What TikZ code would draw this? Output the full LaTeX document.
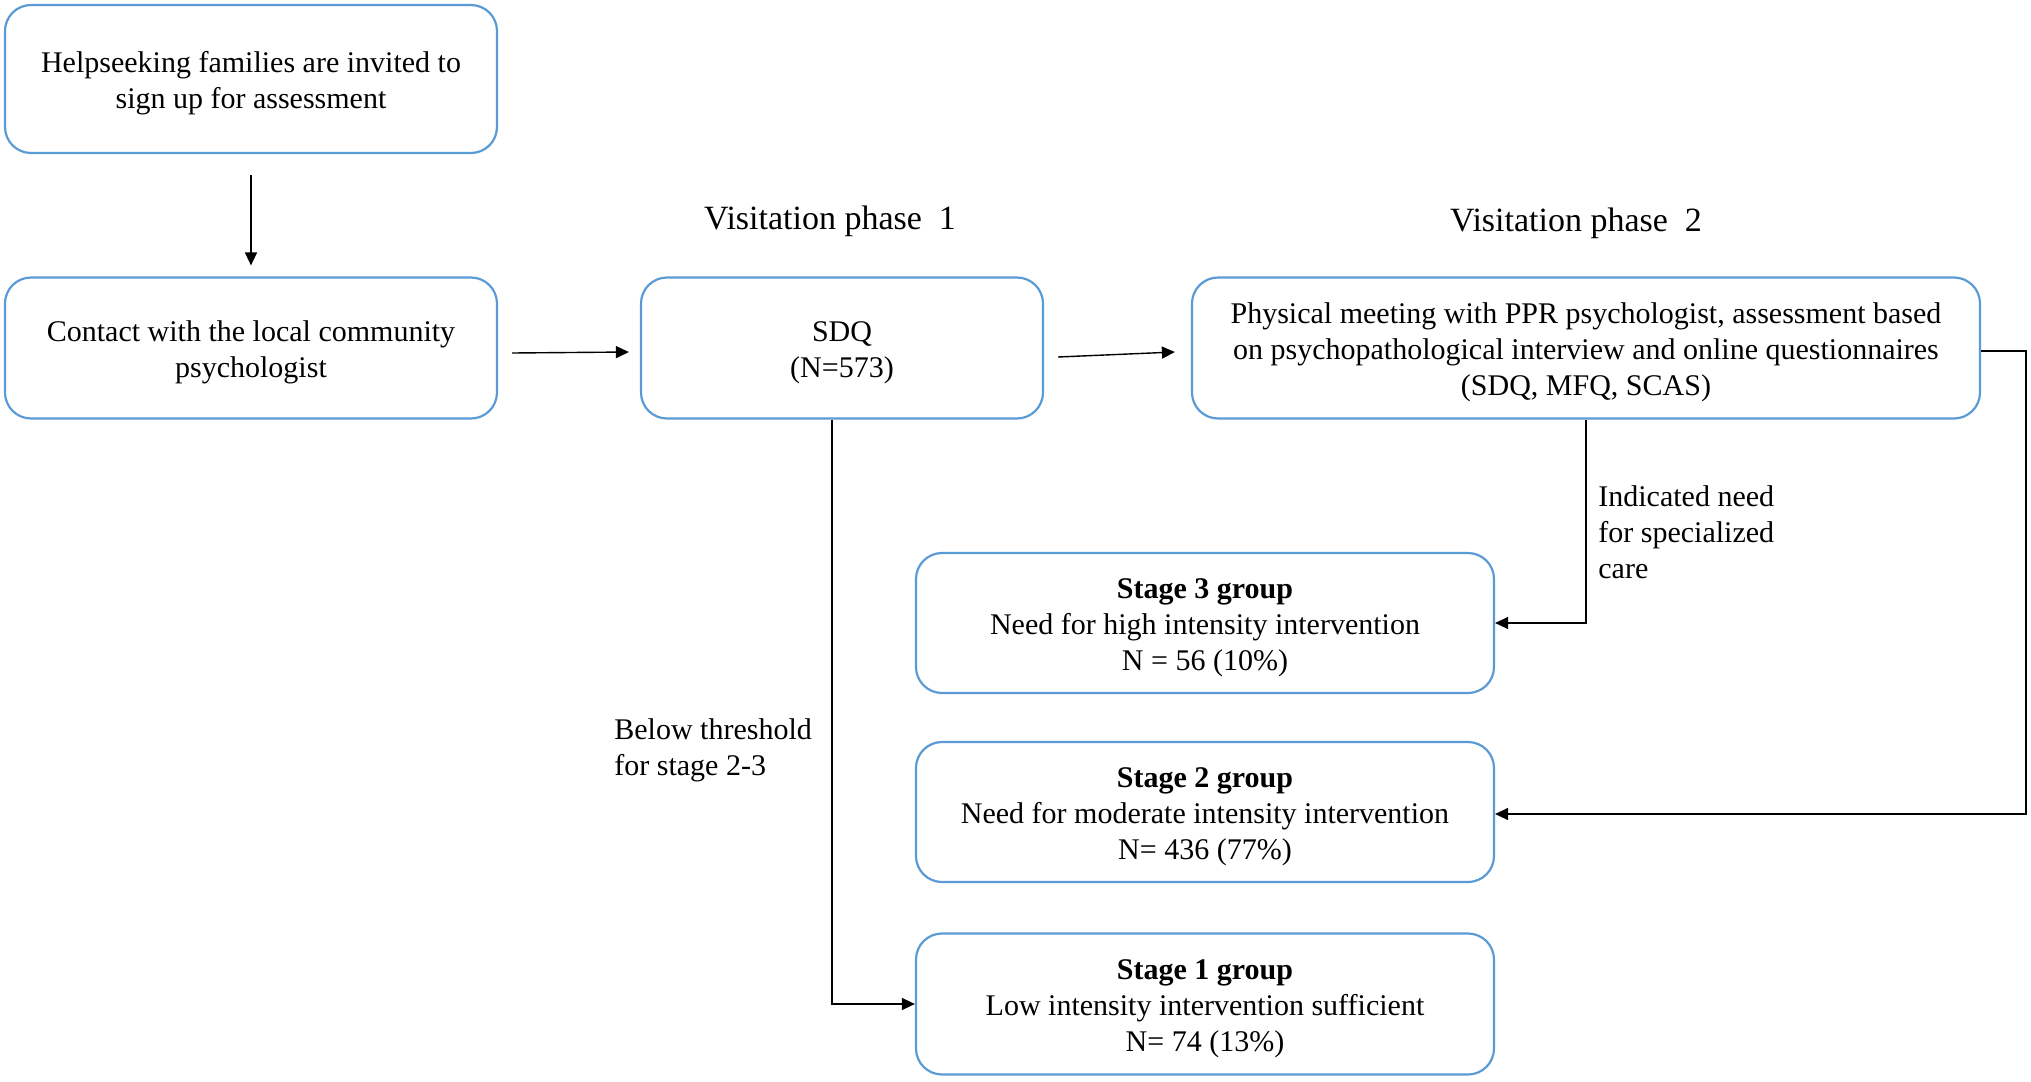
\documentclass[tikz,border=0pt]{standalone}
\usepackage{fontspec}
\setmainfont{Liberation Serif}
\usetikzlibrary{arrows.meta}
\definecolor{boxblue}{RGB}{91,155,213}
\newcommand{\topstrut}{\rule{0pt}{14.8pt}}
\begin{document}
\begin{tikzpicture}[x=0.5pt,y=-0.5pt,
  box/.style={draw=boxblue, line width=1.1pt, rounded corners=13pt, fill=white, align=center,
    font=\fontsize{15}{18}\selectfont, inner sep=2pt},
  arr/.style={draw=black, line width=0.7pt, -{Triangle[length=6.5pt,width=6pt]}},
  lbl/.style={font=\fontsize{15}{18}\selectfont, align=left, inner sep=0pt},
  phase/.style={font=\fontsize{17}{20}\selectfont, inner sep=0pt}]
\useasboundingbox (0,0) rectangle (2031,1082);

\node[box, minimum width=246pt, minimum height=74pt] (b1) at (251,79)
  {\topstrut Helpseeking families are invited to\\sign up for assessment};
\node[box, minimum width=246pt, minimum height=70.5pt] (b2) at (251,348)
  {\topstrut Contact with the local community\\psychologist};
\node[box, minimum width=201pt, minimum height=70.5pt] (sdq) at (842,348)
  {\topstrut SDQ\\(N=573)};
\node[box, minimum width=394pt, minimum height=70.5pt] (phys) at (1586,348)
  {\topstrut Physical meeting with PPR psychologist, assessment based\\on psychopathological interview and online questionnaires\\(SDQ, MFQ, SCAS)};
\node[box, minimum width=289pt, minimum height=70pt] (s3) at (1205,623)
  {\topstrut\textbf{Stage 3 group}\\Need for high intensity intervention\\N = 56 (10\%)};
\node[box, minimum width=289pt, minimum height=70pt] (s2) at (1205,812)
  {\topstrut\textbf{Stage 2 group}\\Need for moderate intensity intervention\\N= 436 (77\%)};
\node[box, minimum width=289pt, minimum height=70.5pt] (s1) at (1205,1004)
  {\topstrut\textbf{Stage 1 group}\\Low intensity intervention sufficient\\N= 74 (13\%)};

\node[phase] (p1) at (830,221) {Visitation phase\ \ 1};
\node[phase] (p2) at (1576,223) {Visitation phase\ \ 2};

\node[lbl, anchor=north west] (l1) at (1598,485) {Indicated need\\for specialized\\care};
\node[lbl, anchor=north west] (l2) at (614,718) {Below threshold\\for stage 2-3};

\draw[arr, shorten <=10.5pt, shorten >=5.5pt] (b1) -- (b2);
\draw[arr] ([xshift=7pt,yshift=-2.5pt]b2.east) -- ([xshift=-5.5pt,yshift=-2pt]sdq.west);
\draw[arr] ([xshift=7pt,yshift=-4.5pt]sdq.east) -- ([xshift=-8pt,yshift=-2pt]phys.west);
\draw[arr] ([yshift=-1.5pt]phys.east) -- ++(22.5pt,0) |- ([yshift=-1pt]s2.east);
\draw[arr] (phys.south) |- (s3.east);
\draw[arr] ([xshift=-5pt]sdq.south) |- (s1.west);
\end{tikzpicture}
\end{document}
